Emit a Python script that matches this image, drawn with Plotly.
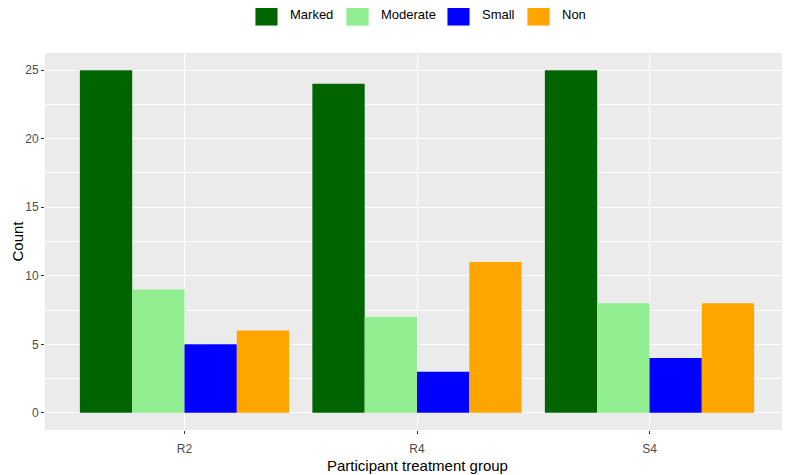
import plotly.graph_objects as go

groups = ["R2", "R4", "S4"]
levels = ["Marked", "Moderate", "Small", "Non"]
marked = [25, 24, 25]
moderate = [9, 7, 8]
small = [5, 3, 4]
non = [6, 11, 8]
colours = ["#006400", "#90EE90", "#0000FF", "#FFA500"]

# the page body adds an 8px margin, so the figure is drawn that much smaller
OFFSET = 8
W, H = 790 - OFFSET, 475 - OFFSET
M_L, M_R, M_T, M_B = 45 - OFFSET, 1, 53 - OFFSET, 45
PANEL_W = W - M_L - M_R
PANEL_H = H - M_T - M_B


def px_to_paper_x(px):
    # px is a position in the 790x475 window
    return (px - OFFSET - M_L) / PANEL_W


def px_to_paper_y(py):
    return (H - M_B - (py - OFFSET)) / PANEL_H


fig = go.Figure()
for name, values, colour in zip(levels, [marked, moderate, small, non], colours):
    fig.add_trace(
        go.Bar(
            x=groups,
            y=values,
            name=name,
            marker={"color": colour, "line": {"width": 0}},
            showlegend=False,
        )
    )

# ggplot-style legend on top: big square keys built from the level list
key_left = [255, 346, 447, 527]
key_size = 23
key_top = 3
for name, colour, kx in zip(levels, colours, key_left):
    fig.add_shape(
        type="rect",
        xref="paper",
        yref="paper",
        x0=px_to_paper_x(kx),
        x1=px_to_paper_x(kx + key_size),
        y0=px_to_paper_y(key_top + key_size),
        y1=px_to_paper_y(key_top),
        fillcolor=colour,
        line={"color": "#F2F2F2", "width": 1},
        layer="above",
    )
    fig.add_annotation(
        text=name,
        xref="paper",
        yref="paper",
        x=px_to_paper_x(kx + key_size + 10),
        y=px_to_paper_y(key_top + key_size / 2),
        xanchor="left",
        yanchor="middle",
        showarrow=False,
        font={"size": 13, "color": "#000000"},
    )

# axis titles as annotations so they sit where ggplot puts them
fig.add_annotation(
    text="Participant treatment group",
    xref="paper",
    yref="paper",
    x=0.5,
    y=px_to_paper_y(465),
    xanchor="center",
    yanchor="middle",
    showarrow=False,
    font={"size": 15, "color": "#000000"},
)
fig.add_annotation(
    text="Count",
    xref="paper",
    yref="paper",
    x=px_to_paper_x(17),
    y=0.5,
    xanchor="center",
    yanchor="middle",
    textangle=-90,
    showarrow=False,
    font={"size": 15, "color": "#000000"},
)

fig.update_layout(
    width=W,
    height=H,
    margin={"l": M_L, "r": M_R, "t": M_T, "b": M_B},
    paper_bgcolor="white",
    plot_bgcolor="#EBEBEB",
    barmode="group",
    bargap=0.1,
    bargroupgap=0,
    font={"family": "Liberation Sans, Arial, sans-serif", "color": "#4D4D4D"},
)

fig.update_xaxes(
    type="category",
    range=[-0.6, 2.6],
    automargin=False,
    showgrid=True,
    gridcolor="white",
    gridwidth=1.1,
    zeroline=False,
    showline=False,
    ticks="outside",
    ticklen=3,
    tickcolor="#333333",
    ticklabelstandoff=5,
    tickfont={"size": 12, "color": "#4D4D4D"},
)

fig.update_yaxes(
    range=[-1.25, 26.25],
    automargin=False,
    tickmode="array",
    tickvals=[0, 5, 10, 15, 20, 25],
    showgrid=True,
    gridcolor="white",
    gridwidth=1.1,
    minor={
        "tickmode": "array",
        "tickvals": [2.5, 7.5, 12.5, 17.5, 22.5],
        "showgrid": True,
        "gridcolor": "white",
        "gridwidth": 0.5,
    },
    zeroline=False,
    showline=False,
    ticks="outside",
    ticklen=3,
    tickcolor="#333333",
    tickfont={"size": 12, "color": "#4D4D4D"},
)

fig.write_html("out.html")
